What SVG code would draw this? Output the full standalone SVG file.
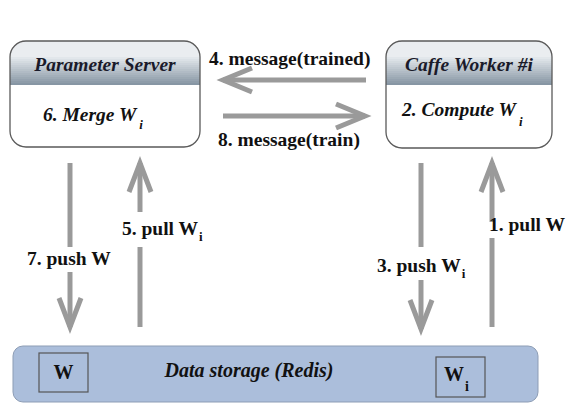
<svg xmlns="http://www.w3.org/2000/svg" width="583" height="410" viewBox="0 0 583 410">
<rect width="583" height="410" fill="#fff"/>

<g id="parameter-server">
<rect x="10" y="41" width="190" height="106" rx="16" fill="#fff"/>
<path d="M10,85 V57 A16,16 0 0 1 26,41 H184 A16,16 0 0 1 200,57 V85 Z" fill="#eaedf0"/>
<g stroke="none">
<rect x="10" y="57" width="190" height="2" fill="#e2e7eb"/>
<rect x="10" y="59" width="190" height="2" fill="#dbe1e6"/>
<rect x="10" y="61" width="190" height="2" fill="#d4dbe0"/>
<rect x="10" y="63" width="190" height="2" fill="#cdd4db"/>
<rect x="10" y="65" width="190" height="2" fill="#c6ced5"/>
<rect x="10" y="67" width="190" height="2" fill="#bfc8d0"/>
<rect x="10" y="69" width="190" height="2" fill="#b8c2ca"/>
<rect x="10" y="71" width="190" height="2" fill="#b1bbc5"/>
<rect x="10" y="73" width="190" height="2" fill="#aab5bf"/>
<rect x="10" y="75" width="190" height="2" fill="#a3afba"/>
<rect x="10" y="77" width="190" height="2" fill="#9ca9b4"/>
<rect x="10" y="79" width="190" height="2" fill="#95a2af"/>
<rect x="10" y="81" width="190" height="2" fill="#8e9ca9"/>
<rect x="10" y="83" width="190" height="2" fill="#8796a4"/>
</g>
<rect x="10" y="41" width="190" height="106" rx="16" fill="none" stroke="#5a5a5a" stroke-width="1.3"/>
<text x="105" y="71" style="font-family:'Times New Roman',serif;font-size:19.5px;font-weight:bold;font-style:italic" fill="#1a1a2a" text-anchor="middle">Parameter Server</text>
<text x="43" y="121" style="font-family:'Times New Roman',serif;font-size:19.5px;font-weight:bold;font-style:italic" fill="#111">6. Merge  W<tspan font-size="13" dx="3" dy="8">i</tspan></text>
</g>

<g id="caffe-worker">
<rect x="386" y="41" width="166" height="107" rx="16" fill="#fff"/>
<path d="M386,85 V57 A16,16 0 0 1 402,41 H536 A16,16 0 0 1 552,57 V85 Z" fill="#eaedf0"/>
<g stroke="none">
<rect x="386" y="57" width="166" height="2" fill="#e2e7eb"/>
<rect x="386" y="59" width="166" height="2" fill="#dbe1e6"/>
<rect x="386" y="61" width="166" height="2" fill="#d4dbe0"/>
<rect x="386" y="63" width="166" height="2" fill="#cdd4db"/>
<rect x="386" y="65" width="166" height="2" fill="#c6ced5"/>
<rect x="386" y="67" width="166" height="2" fill="#bfc8d0"/>
<rect x="386" y="69" width="166" height="2" fill="#b8c2ca"/>
<rect x="386" y="71" width="166" height="2" fill="#b1bbc5"/>
<rect x="386" y="73" width="166" height="2" fill="#aab5bf"/>
<rect x="386" y="75" width="166" height="2" fill="#a3afba"/>
<rect x="386" y="77" width="166" height="2" fill="#9ca9b4"/>
<rect x="386" y="79" width="166" height="2" fill="#95a2af"/>
<rect x="386" y="81" width="166" height="2" fill="#8e9ca9"/>
<rect x="386" y="83" width="166" height="2" fill="#8796a4"/>
</g>
<rect x="386" y="41" width="166" height="107" rx="16" fill="none" stroke="#5a5a5a" stroke-width="1.3"/>
<text x="469" y="71" style="font-family:'Times New Roman',serif;font-size:19.5px;font-weight:bold;font-style:italic" fill="#1a1a2a" text-anchor="middle">Caffe Worker #i</text>
<text x="402" y="116" style="font-family:'Times New Roman',serif;font-size:19.5px;font-weight:bold;font-style:italic" fill="#111">2. Compute W<tspan font-size="13" dx="3" dy="10">i</tspan></text>
</g>

<g id="data-storage">
<rect x="13" y="346" width="525" height="56" rx="10" fill="#abbedb" stroke="#8d9db5" stroke-width="1"/>
<text x="249" y="377" text-anchor="middle" style="font-family:'Times New Roman',serif;font-size:20px;font-weight:bold;font-style:italic" fill="#111">Data storage (Redis)</text>
<g id="w-box">
<rect x="39" y="353" width="49" height="39" fill="none" stroke="#555" stroke-width="1.2"/>
<text x="63.5" y="379" text-anchor="middle" style="font-family:'Times New Roman',serif;font-size:20px;font-weight:bold" fill="#111">W</text>
</g>
<g id="wi-box">
<rect x="436" y="357" width="49" height="40" fill="none" stroke="#555" stroke-width="1.2"/>
<text x="444" y="381" style="font-family:'Times New Roman',serif;font-size:20px;font-weight:bold" fill="#111">W<tspan font-size="14" dx="1" dy="10">i</tspan></text>
</g>
</g>

<g id="connectors" stroke="#9a9a9a" stroke-width="5" fill="none">
<line x1="366" y1="80" x2="223" y2="80"/>
<polyline points="252,68 223,80 252,92"/>
<line x1="223" y1="116" x2="365" y2="116"/>
<polyline points="336,104 365,116 336,128"/>
<line x1="70" y1="163" x2="70" y2="247"/>
<line x1="70" y1="272" x2="70" y2="327"/>
<polyline points="59,298 70,327 81,298"/>
<line x1="140" y1="327" x2="140" y2="247"/>
<line x1="140" y1="212" x2="140" y2="163"/>
<polyline points="129,192 140,163 151,192"/>
<line x1="421" y1="163" x2="421" y2="247"/>
<line x1="421" y1="280" x2="421" y2="329"/>
<polyline points="410,300 421,329 432,300"/>
<line x1="492" y1="327" x2="492" y2="238"/>
<line x1="492" y1="222" x2="492" y2="163"/>
<polyline points="481,192 492,163 503,192"/>
</g>

<g id="labels">
<text x="209" y="65" style="font-family:'Times New Roman',serif;font-size:19.5px;font-weight:bold" fill="#111">4. message(trained)</text>
<text x="218" y="146" style="font-family:'Times New Roman',serif;font-size:19.5px;font-weight:bold" fill="#111">8. message(train)</text>
<text x="27" y="265" style="font-family:'Times New Roman',serif;font-size:19.5px;font-weight:bold" fill="#111">7. push W</text>
<text x="122" y="235" style="font-family:'Times New Roman',serif;font-size:19.5px;font-weight:bold" fill="#111">5. pull W<tspan font-size="13" dx="1" dy="6">i</tspan></text>
<text x="377" y="272" style="font-family:'Times New Roman',serif;font-size:19.5px;font-weight:bold" fill="#111">3. push W<tspan font-size="13" dx="1" dy="6">i</tspan></text>
<text x="489" y="231" style="font-family:'Times New Roman',serif;font-size:19.5px;font-weight:bold" fill="#111">1. pull W</text>
</g>
</svg>
